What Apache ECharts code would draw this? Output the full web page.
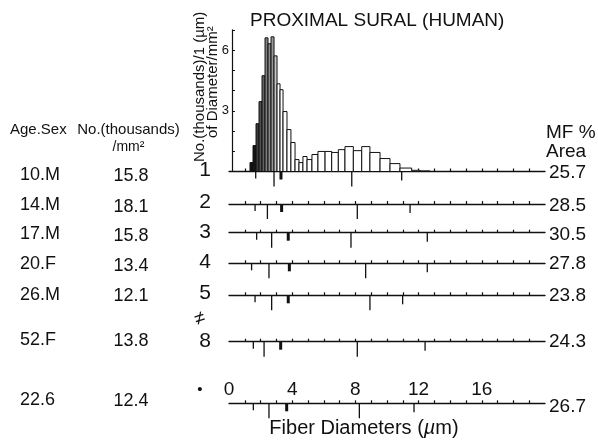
<!DOCTYPE html>
<html><head><meta charset="utf-8">
<script src="https://cdn.jsdelivr.net/npm/echarts@6/dist/echarts.min.js"></script>
<style>html,body{margin:0;padding:0;background:#fff}#c{width:598px;height:442px}</style>
</head><body><div id="c"></div>
<script>
// ---------- data ----------
const chartTitle = 'PROXIMAL SURAL (HUMAN)';
const rowLabels = ['1', '2', '3', '4', '5', '8'];
const ageSex = ['10.M', '14.M', '17.M', '20.F', '26.M', '52.F', '22.6'];
const density = ['15.8', '18.1', '15.8', '13.4', '12.1', '13.8', '12.4'];
const mfArea = ['25.7', '28.5', '30.5', '27.8', '23.8', '24.3', '26.7'];
// histogram of row 1: bin edges (µm) and heights (thousands / 1 µm / mm²)
const histEdges = [1.33, 1.52, 1.71, 1.90, 2.09, 2.28, 2.47, 2.66, 2.85, 3.04, 3.23, 3.42, 3.67, 3.92,
  4.18, 4.43, 4.68, 4.94, 5.25, 5.63, 6.08, 6.50, 6.92, 7.34, 7.87, 8.40, 8.92, 9.56, 10.19, 10.82,
  11.56, 12.09, 12.72];
const histHeights = [0.44, 1.28, 2.36, 3.45, 4.73, 6.60, 6.31, 6.65, 5.71, 4.33, 4.04, 2.96, 2.07, 1.43,
  0.59, 0.44, 0.74, 0.59, 0.84, 0.99, 0.99, 0.94, 1.08, 1.23, 1.03, 1.23, 0.94, 0.64, 0.39, 0.17,
  0.06, 0.03];
// marker positions (µm) per row: [short, long, thick, long, medium]
const markers1 = [1.69, 2.85, 3.29, 7.77, 10.93];
const markers2 = [1.65, 2.43, 3.33, 8.12, 11.46];
const markers3 = [1.75, 2.70, 3.75, 7.72, 12.55];
const markers4 = [1.43, 2.53, 3.82, 8.65, 12.55];
const markers5 = [1.65, 2.70, 3.75, 8.92, 10.99];
const markers8 = [1.54, 2.22, 3.27, 8.12, 12.41];
const markersMean = [1.54, 2.53, 3.65, 8.25, 11.71];
const xTickLabels = [0, 4, 8, 12, 16];
const yTickLabels = [3, 6];

// ---------- layout / style ----------
const FONT = "'Liberation Sans', Arial, Helvetica, sans-serif";
const INK = '#111';
const rowLineY = [171.5, 204, 232.7, 263.3, 295.3, 341.7, 403.3];
const rowNumY = [170, 202.5, 232.5, 262.5, 293, 341.5];
const ageY = [175, 205.5, 234.5, 264.5, 295.5, 340.5, 400.5];
const densY = [176.5, 207, 236, 266, 296.5, 341.5, 401.5];
const areaY = [172.5, 206, 235, 264, 295.5, 342, 406.5];
const markerRows = [markers1, markers2, markers3, markers4, markers5, markers8, markersMean];
const markLen = [7, 15, 8, 15, 9];
const markWidth = [1.3, 1.3, 3, 1.3, 1.3];
const barShades = ['#111', '#151515', '#3c3c3c', '#505050', '#626262', '#808080', '#8c8c8c', '#999', '#c8c8c8'];
const X0 = 229, XW = 316;
const tickVals = [];
for (let i = 1; i < 20; i++) tickVals.push(i);

const grids = [], xAxes = [], yAxes = [], series = [];
rowLineY.forEach((ly, r) => {
  const h = r === 0 ? 141.75 : (r === 6 ? 4 : 6);
  grids.push({ left: X0, width: XW, top: ly - h, height: h, containLabel: false, outerBoundsMode: 'none' });
  xAxes.push({
    gridIndex: r, type: 'value', position: 'bottom', min: 0, max: 20, interval: 1,
    axisLine: { show: true, onZero: false, lineStyle: { color: INK, width: 1.3 } },
    axisTick: { show: true, inside: true, length: 3, customValues: tickVals, lineStyle: { color: INK, width: 1.2 } },
    axisLabel: { show: false }, splitLine: { show: false }
  });
  if (r === 0) {
    yAxes.push({
      gridIndex: 0, type: 'value', min: 0, max: 7, interval: 1, offset: -3,
      axisLine: { show: true, lineStyle: { color: INK, width: 1.2 } },
      axisTick: { show: true, inside: true, length: 3, lineStyle: { color: INK } },
      axisLabel: { color: INK, fontSize: 13, fontFamily: FONT, margin: 3,
        formatter: v => (yTickLabels.includes(v) ? String(v) : '') },
      splitLine: { show: false }
    });
  } else {
    yAxes.push({ gridIndex: r, type: 'value', min: 0, max: 1, show: false });
  }
  series.push({
    type: 'custom', xAxisIndex: r, yAxisIndex: r, silent: true, clip: false,
    data: markerRows[r].map((v, k) => [v, k]),
    renderItem: (p, api) => {
      const k = api.value(1);
      const pt = api.coord([api.value(0), 0]);
      return { type: 'line', shape: { x1: pt[0], y1: pt[1], x2: pt[0], y2: pt[1] + markLen[k] },
        style: { stroke: INK, lineWidth: markWidth[k] } };
    }
  });
});
// tick labels above the bottom row
xAxes.push({
  gridIndex: 6, type: 'value', position: 'top', min: 0, max: 20, interval: 4,
  axisLine: { show: false }, axisTick: { show: false }, splitLine: { show: false },
  axisLabel: { color: INK, fontSize: 19, fontFamily: FONT, margin: 0,
    formatter: v => (xTickLabels.includes(v) ? String(v) : '') }
});
// histogram
series.push({
  type: 'custom', xAxisIndex: 0, yAxisIndex: 0, silent: true,
  data: histHeights.map((h, i) => [histEdges[i], histEdges[i + 1], h]),
  renderItem: (p, api) => {
    const a = api.coord([api.value(0), api.value(2)]);
    const b = api.coord([api.value(1), 0]);
    const fill = p.dataIndex < barShades.length ? barShades[p.dataIndex] : '#fff';
    return { type: 'rect', shape: { x: a[0], y: a[1], width: b[0] - a[0], height: b[1] - a[1] },
      style: { fill: fill, stroke: INK, lineWidth: 1 } };
  }
});

function txt(text, x, y, size, align, extra) {
  return {
    type: 'text', x: x, y: y, silent: true,
    style: Object.assign({ text: text, x: 0, y: 0, font: size + 'px ' + FONT, fill: INK,
      align: align, textAlign: align, verticalAlign: 'middle', textVerticalAlign: 'middle' }, extra || {})
  };
}
const graphics = [];
graphics.push(txt(chartTitle, 250, 21, 19, 'left'));
graphics.push(txt('Age.Sex', 10, 130, 15, 'left'));
graphics.push(txt('No.(thousands)', 128.5, 130, 15, 'center'));
graphics.push(txt('/mm²', 128.5, 147, 14, 'center'));
graphics.push(txt('MF %', 546, 133, 19, 'left'));
graphics.push(txt('Area', 546, 152, 19, 'left'));
ageSex.forEach((t, i) => graphics.push(txt(t, 20, ageY[i], 18, 'left')));
density.forEach((t, i) => graphics.push(txt(t, 131, densY[i], 18, 'center')));
mfArea.forEach((t, i) => graphics.push(txt(t, 549, areaY[i], 19, 'left')));
rowLabels.forEach((t, i) => graphics.push(txt(t, 205, rowNumY[i], 21, 'center')));
graphics.push(Object.assign(txt('≠', 200, 319, 19, 'center'), { rotation: 0.3 }));
graphics.push(txt('•', 200, 390, 15, 'center'));
graphics.push(Object.assign(txt('No.(thousands)/1 (µm)', 200, 162, 15, 'left'), { rotation: Math.PI / 2 }));
graphics.push(Object.assign(txt('of Diameter/mm²', 212.5, 138, 15, 'left'), { rotation: Math.PI / 2 }));
graphics.push(txt('Fiber Diameters ({i|µ}m)', 364, 428, 20, 'center', {
  rich: { i: { fontStyle: 'italic', fontSize: 20, fontFamily: FONT, fill: INK } }
}));

const chart = echarts.init(document.getElementById('c'), null, { renderer: 'canvas' });
chart.setOption({
  animation: false,
  backgroundColor: '#fff',
  textStyle: { fontFamily: FONT },
  grid: grids, xAxis: xAxes, yAxis: yAxes, series: series,
  graphic: { elements: graphics }
});
</script></body></html>
